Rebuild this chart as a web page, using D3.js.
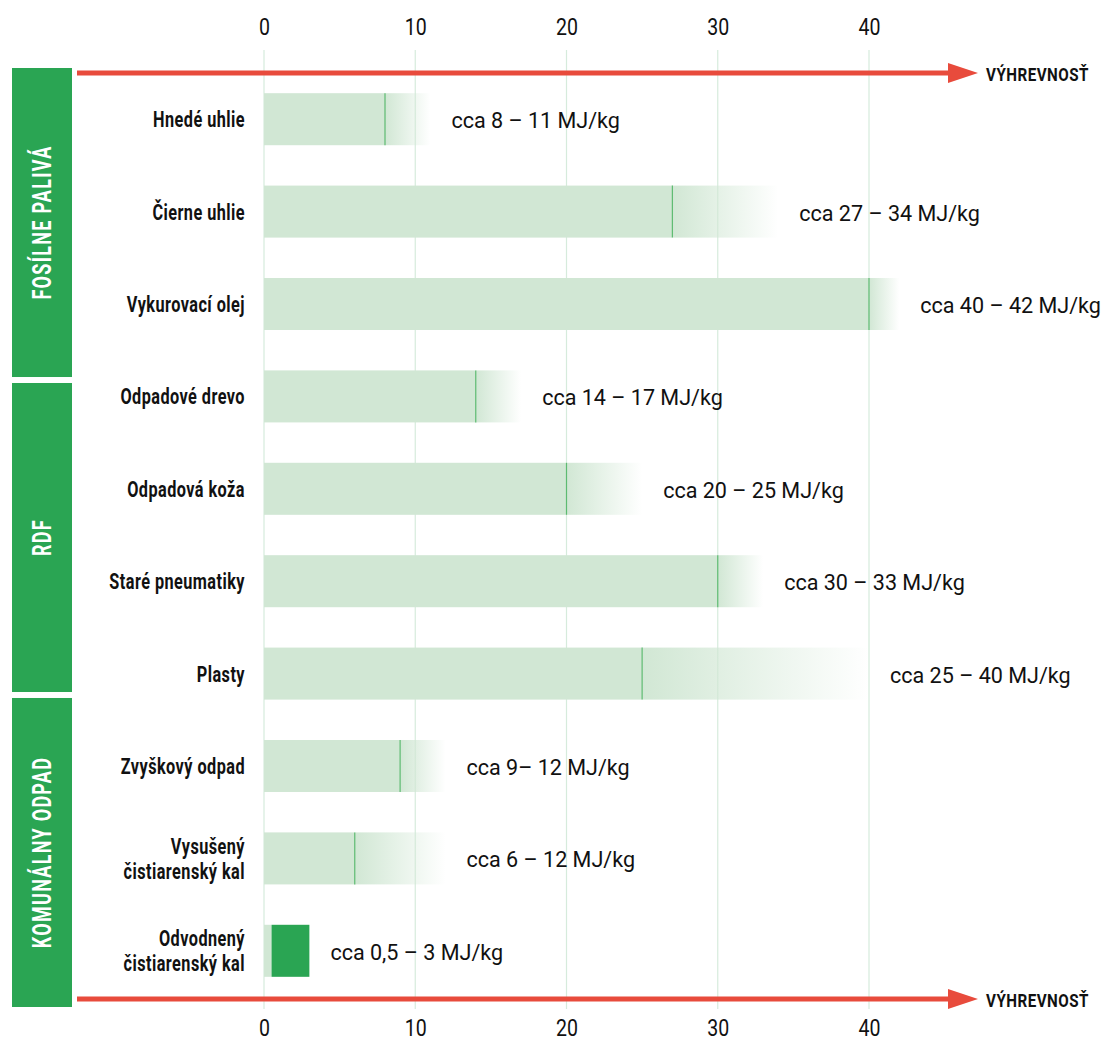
<!DOCTYPE html>
<html>
<head>
<meta charset="utf-8">
<script src="https://cdn.jsdelivr.net/npm/d3@7"></script>
<style>
  html, body { margin: 0; padding: 0; background: #fff; }
  svg { display: block; }
  text { font-family: Roboto, "Liberation Sans", sans-serif; }
</style>
</head>
<body>
<svg id="chart" width="1107" height="1041"></svg>
<script>
// Calorific value ranges (MJ/kg) for fuels and waste streams
const categories = [
  "Hnedé uhlie", "Čierne uhlie", "Vykurovací olej",
  "Odpadové drevo", "Odpadová koža", "Staré pneumatiky", "Plasty",
  "Zvyškový odpad", "Vysušený\nčistiarenský kal", "Odvodnený\nčistiarenský kal"
];
const lowValues  = [8, 27, 40, 14, 20, 30, 25, 9, 6, 0.5];
const highValues = [11, 34, 42, 17, 25, 33, 40, 12, 12, 3];
const valueLabels = [
  "cca 8 – 11 MJ/kg", "cca 27 – 34 MJ/kg", "cca 40 – 42 MJ/kg",
  "cca 14 – 17 MJ/kg", "cca 20 – 25 MJ/kg", "cca 30 – 33 MJ/kg", "cca 25 – 40 MJ/kg",
  "cca 9– 12 MJ/kg", "cca 6 – 12 MJ/kg", "cca 0,5 – 3 MJ/kg"
];
// last row is drawn as a solid range block instead of a fading one
const solidRange = [false, false, false, false, false, false, false, false, false, true];
const groups = ["FOSÍLNE PALIVÁ", "RDF", "KOMUNÁLNY ODPAD"];
const tickValues = [0, 10, 20, 30, 40];
const axisTitle = "VÝHREVNOSŤ";

const svg = d3.select("#chart");
const lightGreen = "#d1e7d4";
const lineGreen = "#5dbb71";
const darkGreen = "#2aa553";
const red = "#e84b3c";

const x = d3.scaleLinear().domain([0, 40]).range([264, 869]);
const y = d3.scaleBand().domain(categories).range([73, 997])
  .paddingInner(0.437).paddingOuter(0.2185);

// narrow type: glyphs are squeezed horizontally around their anchor point
function narrowText(parent, tx, ty, sx, rot) {
  return parent.append("g")
    .attr("transform", `translate(${tx},${ty})${rot ? ` rotate(${rot})` : ""} scale(${sx},1)`)
    .append("text");
}

// gradient: bar colour fading out towards the upper bound
const defs = svg.append("defs");
const grad = defs.append("linearGradient").attr("id", "fade")
  .attr("x1", 0).attr("x2", 1).attr("y1", 0).attr("y2", 0);
grad.append("stop").attr("offset", 0).attr("stop-color", lightGreen).attr("stop-opacity", 1);
grad.append("stop").attr("offset", 1).attr("stop-color", lightGreen).attr("stop-opacity", 0);

// vertical grid lines
svg.append("g").selectAll("line").data(tickValues).join("line")
  .attr("x1", d => x(d)).attr("x2", d => x(d))
  .attr("y1", 50).attr("y2", 1009)
  .attr("stroke", "#d6ebdc").attr("stroke-width", 1.2);

// tick labels top and bottom
const topAxis = d3.axisTop(x).tickValues(tickValues).tickSize(0).tickPadding(0);
const bottomAxis = d3.axisBottom(x).tickValues(tickValues).tickSize(0).tickPadding(0);
[[topAxis, 35], [bottomAxis, 1036]].forEach(([ax, ty]) => {
  const g = svg.append("g").attr("transform", `translate(0,${ty})`).call(ax);
  g.select(".domain").remove();
  g.selectAll(".tick text").attr("font-size", 23).attr("fill", "#111")
    .attr("font-family", null).attr("dy", null).attr("y", 0)
    .attr("transform", "scale(0.85,1)");
});

// bars
const rows = categories.map((c, i) => ({
  c, lo: lowValues[i], hi: highValues[i], label: valueLabels[i], solid: solidRange[i]
}));
const bars = svg.append("g").selectAll("g").data(rows).join("g")
  .attr("transform", d => `translate(0,${y(d.c)})`);
bars.append("rect")
  .attr("x", x(0)).attr("width", d => x(d.lo) - x(0))
  .attr("height", y.bandwidth()).attr("fill", lightGreen);
bars.append("rect")
  .attr("x", d => x(d.lo)).attr("width", d => x(d.hi) - x(d.lo))
  .attr("height", y.bandwidth())
  .attr("fill", d => d.solid ? darkGreen : "url(#fade)");
bars.filter(d => !d.solid).append("line")
  .attr("x1", d => x(d.lo)).attr("x2", d => x(d.lo))
  .attr("y1", 0).attr("y2", y.bandwidth())
  .attr("stroke", lineGreen).attr("stroke-width", 1.2);
bars.each(function(d) {
  narrowText(d3.select(this), x(d.hi) + 21, y.bandwidth() / 2 + 1, 0.98)
    .attr("dy", "0.36em").attr("font-size", 22).attr("fill", "#111")
    .text(d.label);
});

// category labels
const catLayer = svg.append("g");
rows.forEach(d => {
  const t = narrowText(catLayer, 245, y(d.c) + y.bandwidth() / 2, 0.74)
    .attr("text-anchor", "end").attr("font-weight", "bold")
    .attr("font-size", 22).attr("fill", "#111").attr("letter-spacing", 0.6);
  const lines = d.c.split("\n");
  lines.forEach((l, k) => {
    t.append("tspan").attr("x", 0)
      .attr("y", (k - (lines.length - 1) / 2) * 24.5)
      .attr("dy", "0.36em").text(l);
  });
});

// group boxes on the left
const gy = d3.scaleBand().domain(groups).range([68, 1007]).paddingInner(0.019);
const gb = svg.append("g").selectAll("g").data(groups).join("g")
  .attr("transform", d => `translate(12,${gy(d)})`);
gb.append("rect").attr("width", 60).attr("height", gy.bandwidth()).attr("fill", darkGreen);
gb.each(function(d) {
  const g = d3.select(this).append("g")
    .attr("transform", `translate(30,${gy.bandwidth() / 2}) rotate(-90) scale(0.72,1)`);
  g.append("text")
    .attr("text-anchor", "middle").attr("dy", "0.36em")
    .attr("font-weight", "bold").attr("font-size", 25).attr("fill", "#fff")
    .attr("letter-spacing", 1.8)
    .text(d);
});

// value-direction arrows
[73, 999].forEach(ay => {
  const g = svg.append("g");
  g.append("line").attr("x1", 77).attr("x2", 952).attr("y1", ay).attr("y2", ay)
    .attr("stroke", red).attr("stroke-width", 5);
  g.append("path")
    .attr("d", `M948,${ay - 10}L978,${ay}L948,${ay + 10}Z`).attr("fill", red);
  narrowText(g, 986, ay + 1, 0.8)
    .attr("dy", "0.36em")
    .attr("font-weight", "bold").attr("font-size", 19).attr("fill", "#111")
    .attr("letter-spacing", 0.6)
    .text(axisTitle);
});
</script>
</body>
</html>
